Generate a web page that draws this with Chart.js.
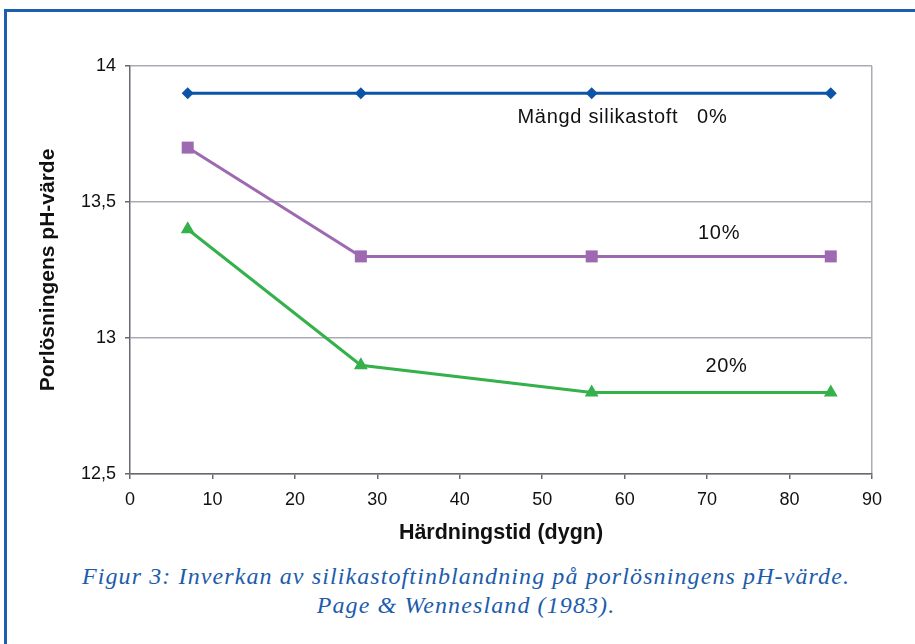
<!DOCTYPE html>
<html>
<head>
<meta charset="utf-8">
<script src="https://cdn.jsdelivr.net/npm/chart.js@4/dist/chart.umd.min.js"></script>
<style>
  html, body { margin: 0; padding: 0; background: #fff; }
  body { width: 915px; height: 644px; position: relative; overflow: hidden; }
  .frame {
    position: absolute; left: 4px; top: 9px; width: 1000px; height: 700px;
    border: 3px solid #1b5fb3; box-sizing: border-box;
  }
  #chart { position: absolute; left: 0; top: 0; }
  .caption {
    position: absolute; left: 0; width: 932px; top: 562px;
    text-align: center; color: #1c5cab;
    font-family: "Liberation Serif", "Times New Roman", serif;
    font-style: italic; font-size: 24px; line-height: 29px;
    letter-spacing: 1.1px;
  }
</style>
</head>
<body>
<div class="frame"></div>
<canvas id="chart" width="915" height="560"></canvas>
<div class="caption">Figur 3: Inverkan av silikastoftinblandning på porlösningens pH-värde.<br>Page &amp; Wennesland (1983).</div>
<script>
// Härdningstid (dygn)
const days = [7, 28, 56, 85];

// pH-värde per mängd silikastoft
const ph0 = [13.9, 13.9, 13.9, 13.9];
const ph10 = [13.7, 13.3, 13.3, 13.3];
const ph20 = [13.4, 12.9, 12.8, 12.8];

const seriesNames = ['0%', '10%', '20%'];

// text labels inside the plot, anchored in data units
const notes = [
  { text: 'Mängd silikastoft   0%', x: 47, y: 13.81 },
  { text: '10%', x: 68.9, y: 13.385 },
  { text: '20%', x: 69.8, y: 12.895 }
];

const FONT = '"Liberation Sans", Arial, sans-serif';
const DARK = '#666a70';
const GRID = '#a9acb2';

const toPoints = vals => days.map((d, i) => ({ x: d, y: vals[i] }));

// labels written straight into the plot area
const notesPlugin = {
  id: 'notes',
  afterDatasetsDraw(chart) {
    const { ctx, scales: { x, y } } = chart;
    ctx.save();
    ctx.font = '20px ' + FONT;
    ctx.letterSpacing = '0.7px';
    ctx.fillStyle = '#111';
    ctx.textAlign = 'left';
    ctx.textBaseline = 'middle';
    notes.forEach(n => {
      ctx.fillText(n.text, x.getPixelForValue(n.x), y.getPixelForValue(n.y));
    });
    ctx.restore();
  }
};

new Chart(document.getElementById('chart'), {
  type: 'line',
  data: {
    datasets: [
      {
        label: seriesNames[0],
        data: toPoints(ph0),
        borderColor: '#0b54a8',
        backgroundColor: '#0b54a8',
        borderWidth: 3,
        pointStyle: 'rectRot',
        pointRadius: 6,
        pointBorderWidth: 0
      },
      {
        label: seriesNames[1],
        data: toPoints(ph10),
        borderColor: '#9d69b0',
        backgroundColor: '#9d69b0',
        borderWidth: 3,
        pointStyle: 'rect',
        pointRadius: 8.5,
        pointBorderWidth: 0
      },
      {
        label: seriesNames[2],
        data: toPoints(ph20),
        borderColor: '#34b14b',
        backgroundColor: '#34b14b',
        borderWidth: 3,
        pointStyle: 'triangle',
        pointRadius: 8,
        pointBorderWidth: 0
      }
    ]
  },
  options: {
    responsive: false,
    animation: false,
    devicePixelRatio: 1,
    layout: { padding: { left: 0, top: 66, right: 43, bottom: 0 } },
    plugins: {
      legend: { display: false },
      tooltip: { enabled: false }
    },
    elements: { line: { tension: 0 } },
    scales: {
      x: {
        type: 'linear',
        min: 0,
        max: 90,
        afterFit: s => { s.height = 86; },
        ticks: {
          stepSize: 10,
          padding: 10,
          color: '#111',
          font: { family: FONT, size: 18 }
        },
        grid: {
          color: c => c.tick && c.tick.value === 90 ? GRID : 'transparent',
          tickColor: DARK,
          tickLength: 5,
          lineWidth: 1.5
        },
        border: { color: DARK, width: 1.5 },
        title: {
          display: true,
          text: 'Härdningstid (dygn)',
          color: '#111',
          font: { family: FONT, size: 21.5, weight: 'bold' },
          padding: { top: 0, bottom: 14 }
        }
      },
      y: {
        min: 12.5,
        max: 14,
        afterFit: s => { s.width = 130; },
        ticks: {
          stepSize: 0.5,
          padding: 9,
          color: '#111',
          font: { family: FONT, size: 18 },
          callback: v => String(v).replace('.', ',')
        },
        grid: {
          color: GRID,
          tickColor: DARK,
          tickLength: 5,
          lineWidth: 1.5
        },
        border: { color: DARK, width: 1.5 },
        title: {
          display: true,
          text: 'Porlösningens pH-värde',
          color: '#111',
          font: { family: FONT, size: 21, weight: 'bold' },
          padding: { top: 36, bottom: 0 }
        }
      }
    }
  },
  plugins: [notesPlugin]
});
</script>
</body>
</html>
